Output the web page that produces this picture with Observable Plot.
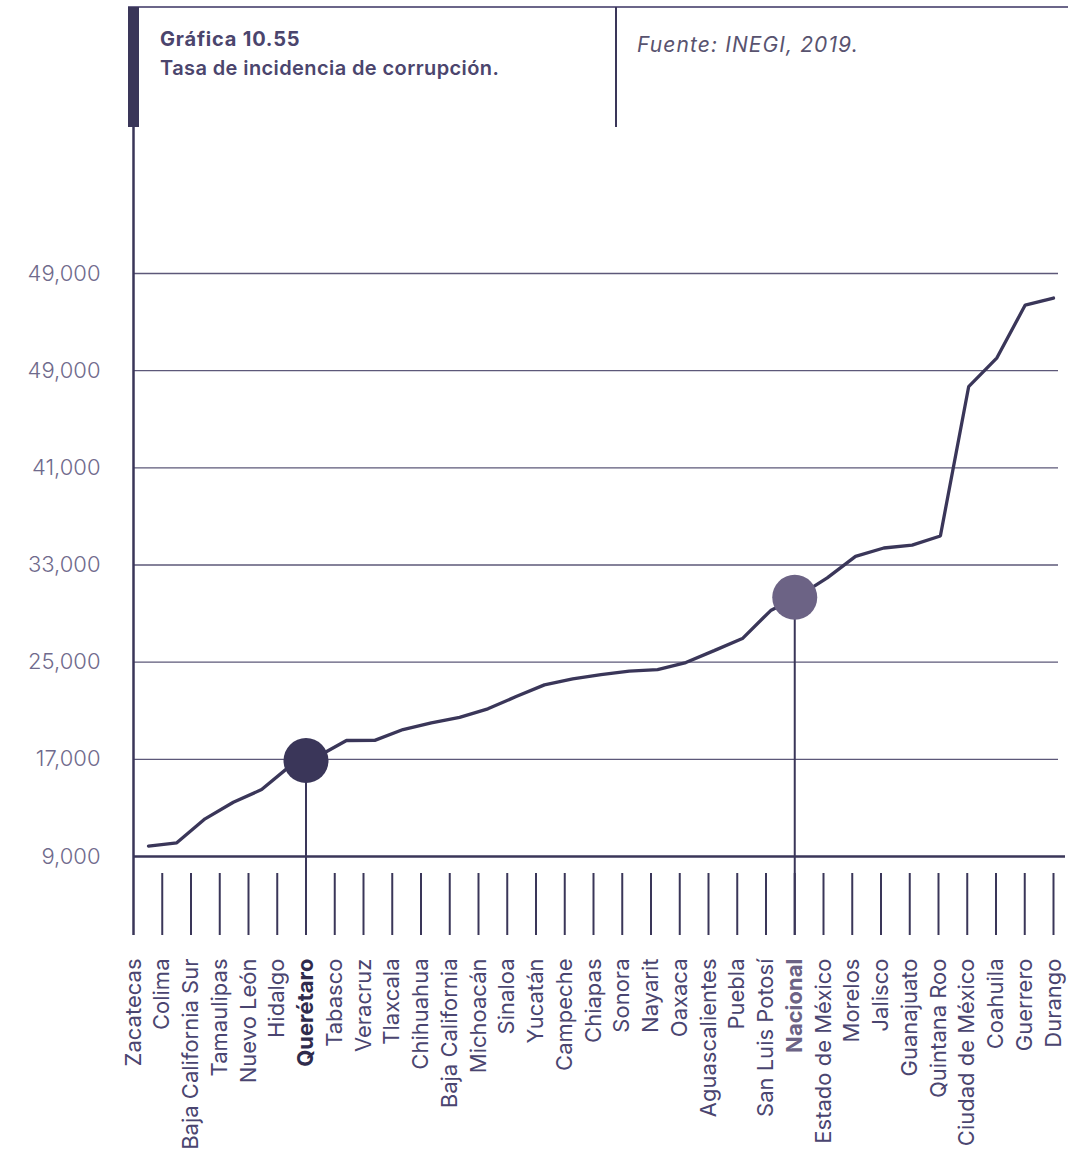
<!DOCTYPE html>
<html><head><meta charset="utf-8">
<script src="https://cdn.jsdelivr.net/npm/d3@7"></script>
<script src="https://cdn.jsdelivr.net/npm/@observablehq/plot@0.6"></script>
<style>
body{margin:0;background:#fff;font-family:Inter,"Noto Sans",sans-serif;}
#wrap{position:relative;width:1068px;height:1163px;overflow:hidden;background:#fff;}
#wrap svg{position:absolute;left:0;top:0;background:transparent;overflow:visible;}
.hdr{position:absolute;white-space:nowrap;}
g[aria-label="ylabels"] text{letter-spacing:1.6px;}
g[aria-label="xlabels"] text{letter-spacing:0.3px;}
.t1{left:160px;top:28px;font-size:20px;line-height:22px;color:#4b456d;font-weight:700;letter-spacing:0.8px;}
.t2{left:160px;top:57px;font-size:20px;line-height:22px;color:#4b456d;font-weight:600;letter-spacing:0.4px;}
.src{left:637px;top:34px;font-size:21px;line-height:22px;color:#58536f;font-style:italic;letter-spacing:1.1px;}
</style></head><body>
<div id="wrap"></div>
<script>
// Categories (x order) and values
const categories = ["Zacatecas","Colima","Baja California Sur","Tamaulipas","Nuevo León","Hidalgo","Querétaro","Tabasco","Veracruz","Tlaxcala","Chihuahua","Baja California","Michoacán","Sinaloa","Yucatán","Campeche","Chiapas","Sonora","Nayarit","Oaxaca","Aguascalientes","Puebla","San Luis Potosí","Nacional","Estado de México","Morelos","Jalisco","Guanajuato","Quintana Roo","Ciudad de México","Coahuila","Guerrero","Durango"];
const values = [9850,10130,12100,13470,14510,16440,17250,18550,18560,19450,20000,20460,21160,22170,23130,23620,23980,24270,24390,24970,25950,26940,29250,30450,31940,33710,34400,34640,35390,47680,50060,54400,54980];
// Highlighted points (circles)
const highlightNames = ["Querétaro","Nacional"];
const highlightValues = [16900,30340];
// Y axis ticks and their printed labels
const yTicks = [9000,17000,25000,33000,41000,49000,57000];
const yTickLabels = ["9,000","17,000","25,000","33,000","41,000","49,000","49,000"];

const dark = "#3a3659", grid = "#5d5879", nacColor = "#6c6385";
const xLabelColor = "#4a4570", yLabelColor = "#6f6a8c";
const W = 1068, H = 1163;
const base = yTicks[0];
const rows = categories.map((name, i) => ({name, value: values[i]}));
const hl = highlightNames.map((name, i) => ({name, value: highlightValues[i]}));
const hlColor = {"Querétaro": dark, "Nacional": nacColor};
const font = "Inter, 'Noto Sans', sans-serif";

const common = {
  width: W, height: H, marginTop: 273, marginBottom: 307,
  y: {domain: [yTicks[0], yTicks[yTicks.length - 1]], axis: null},
  style: {fontFamily: font, background: "transparent", overflow: "visible"}
};
const xScale = {type: "point", domain: categories, padding: 0, round: false, axis: null};

// Layer A: frame, grid, ticks and labels
const layerA = Plot.plot({
  ...common, marginLeft: 133, marginRight: 15,
  x: xScale,
  marks: [
    Plot.ruleY(yTicks.slice(1), {y: d => d, stroke: grid, strokeWidth: 1.4, insetRight: -5}),
    Plot.ruleY([base], {y: d => d, stroke: dark, strokeWidth: 2.6, insetRight: -12}),
    Plot.ruleX([categories[0]], {x: d => d, y1: () => yTicks[yTicks.length - 1], y2: () => base, insetTop: -146, insetBottom: -79, stroke: dark, strokeWidth: 2.5}),
    Plot.ruleX(categories.slice(1), {x: d => d, y1: () => base, y2: () => base, insetTop: 17, insetBottom: -79, stroke: dark, strokeWidth: 2}),
    Plot.ruleX(hl, {x: "name", y1: "value", y2: () => base, insetBottom: -79, stroke: dark, strokeWidth: 2}),
    Plot.text(yTicks, {y: d => d, text: (d, i) => yTickLabels[i], frameAnchor: "left", dx: -33, textAnchor: "end", fontSize: 22, fontWeight: 300, fill: yLabelColor, ariaLabel: "ylabels"}),
    Plot.text(categories.filter(c => !highlightNames.includes(c)), {x: d => d, y: () => base, dy: 102, rotate: -90, textAnchor: "end", fontSize: 22, fontWeight: 400, fill: xLabelColor, ariaLabel: "xlabels"}),
    Plot.text(["Querétaro"], {x: d => d, y: () => base, dy: 102, rotate: -90, textAnchor: "end", fontSize: 22, fontWeight: 700, fill: "#2f2b4c", ariaLabel: "xlabels"}),
    Plot.text(["Nacional"], {x: d => d, y: () => base, dy: 102, rotate: -90, textAnchor: "end", fontSize: 22, fontWeight: 700, fill: nacColor, ariaLabel: "xlabels"})
  ]
});

// Layer B: the line (drawn on its own horizontal range)
const layerB = Plot.plot({
  ...common, marginLeft: 148, marginRight: 15,
  x: xScale,
  marks: [
    Plot.line(rows, {x: "name", y: "value", stroke: dark, strokeWidth: 3.3, strokeLinejoin: "miter"})
  ]
});

// Layer C: highlight circles
const layerC = Plot.plot({
  ...common, marginLeft: 133, marginRight: 15,
  x: xScale,
  marks: [
    Plot.dot(hl, {x: "name", y: "value", r: 22.5, fill: d => hlColor[d.name], stroke: "none"})
  ]
});

const wrap = document.getElementById("wrap");
wrap.appendChild(layerA);
wrap.appendChild(layerB);
wrap.appendChild(layerC);

// Header frame and texts
function box(css) { const d = document.createElement("div"); d.className = "hdr"; d.style.cssText = css; wrap.appendChild(d); return d; }
box("left:128px;top:6px;width:940px;height:1.5px;background:#6b6689;");
box("left:128px;top:7px;width:11px;height:120px;background:" + dark + ";");
box("left:615px;top:7px;width:2px;height:120px;background:" + dark + ";");
const t1 = box(""); t1.className = "hdr t1"; t1.textContent = "Gráfica 10.55";
const t2 = box(""); t2.className = "hdr t2"; t2.textContent = "Tasa de incidencia de corrupción.";
const s = box(""); s.className = "hdr src"; s.textContent = "Fuente: INEGI, 2019.";
</script>
</body></html>
